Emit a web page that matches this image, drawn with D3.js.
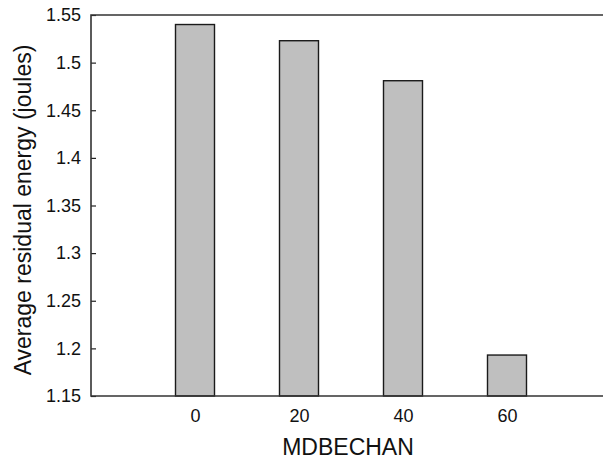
<!DOCTYPE html>
<html>
<head>
<meta charset="utf-8">
<script src="https://cdn.jsdelivr.net/npm/d3@7"></script>
<style>
  body { margin: 0; background: #fff; }
  text { font-family: "Liberation Sans", Arial, sans-serif; fill: #111; }
</style>
</head>
<body>
<div id="chart"></div>
<script>
// data
var categories = [0, 20, 40, 60];
var energy = [1.540, 1.523, 1.481, 1.193];
var yTicks = [1.15, 1.2, 1.25, 1.3, 1.35, 1.4, 1.45, 1.5, 1.55];

var width = 603, height = 460;
var margin = {top: 15, left: 91, bottom: 64};

var svg = d3.select("#chart").append("svg")
  .attr("width", width)
  .attr("height", height);

// x runs past the right edge (the original figure is cropped there)
var x = d3.scaleLinear().domain([-20, 80]).range([margin.left, 611]);
var y = d3.scaleLinear().domain([1.15, 1.55]).range([height - margin.bottom, margin.top]);

var barW = x(7.5) - x(0);

// bars
svg.selectAll("rect.bar")
  .data(categories)
  .enter()
  .append("rect")
  .attr("class", "bar")
  .attr("x", function(d) { return x(d) - barW / 2; })
  .attr("y", function(d, i) { return y(energy[i]); })
  .attr("width", barW)
  .attr("height", function(d, i) { return y(1.15) - y(energy[i]); })
  .attr("fill", "#bfbfbf")
  .attr("stroke", "#1a1a1a")
  .attr("stroke-width", 1.4);

// y axis, ticks pointing inward
var yAxis = svg.append("g")
  .attr("transform", "translate(" + margin.left + ",0)")
  .call(d3.axisLeft(y).tickValues(yTicks).tickSize(-5).tickPadding(10)
    .tickFormat(function(d) { return d3.format("")(+d.toFixed(2)); }));
yAxis.select(".domain").remove();
yAxis.selectAll("line").attr("stroke", "#222").attr("stroke-width", 1.2);
yAxis.selectAll("text").style("font-size", "18px").attr("fill", "#111");

// x axis labels, no tick marks
var xAxis = svg.append("g")
  .attr("transform", "translate(0," + y(1.15) + ")")
  .call(d3.axisBottom(x).tickValues(categories).tickSize(0).tickPadding(13));
xAxis.select(".domain").remove();
xAxis.selectAll("text").style("font-size", "18px").attr("fill", "#111");

// frame: left, top, bottom (right side cut off)
svg.append("path")
  .attr("d", "M" + width + "," + y(1.55) + "H" + margin.left + "V" + y(1.15) + "H" + width)
  .attr("fill", "none")
  .attr("stroke", "#333")
  .attr("stroke-width", 1.6);

svg.append("text")
  .attr("x", 348)
  .attr("y", 455)
  .attr("text-anchor", "middle")
  .style("font-size", "23px")
  .text("MDBECHAN");

svg.append("text")
  .attr("transform", "translate(31," + 210 + ") rotate(-90)")
  .attr("text-anchor", "middle")
  .style("font-size", "23px")
  .text("Average residual energy (joules)");
</script>
</body>
</html>
